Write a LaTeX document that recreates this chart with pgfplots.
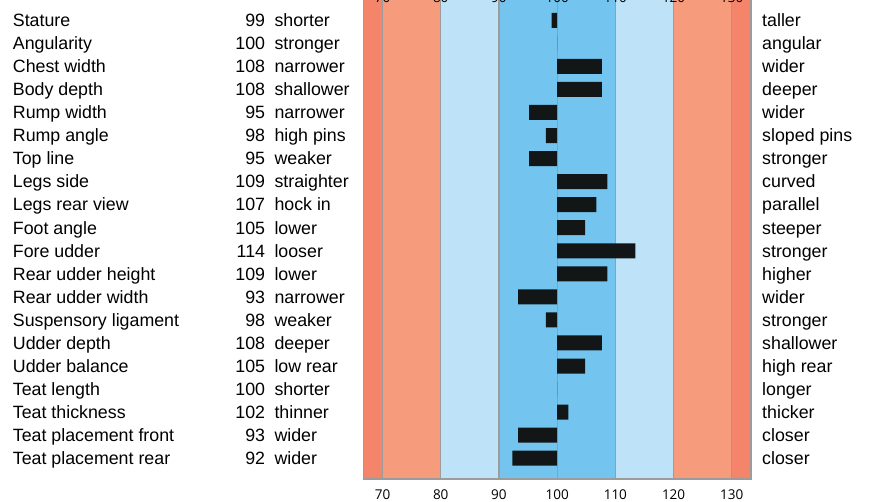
\documentclass[border=0pt]{standalone}
\usepackage{pgfplots}
\pgfplotsset{compat=1.18}
\usepackage{pgfplotstable}
\usepackage{fontspec}
\setmainfont{Liberation Sans}
\newfontfamily\tickfont{Open Sans}
\definecolor{outerred}{HTML}{F4846A}
\definecolor{innerred}{HTML}{F69B7C}
\definecolor{lightblue}{HTML}{BEE3F8}
\definecolor{midblue}{HTML}{73C5EF}
\definecolor{gridgray}{HTML}{9C9C9C}
\definecolor{barblack}{HTML}{121617}
% v = printed value, bar = bar end as drawn in the picture
\pgfplotstableread[col sep=comma]{
row,v,bar
0,99,99.04
1,100,100
2,108,107.68
3,108,107.68
4,95,95.2
5,98,98.08
6,95,95.2
7,109,108.64
8,107,106.72
9,105,104.8
10,114,113.44
11,109,108.64
12,93,93.28
13,98,98.08
14,108,107.68
15,105,104.8
16,100,100
17,102,101.92
18,93,93.28
19,92,92.32
}\bars
\newcommand\labfont{\fontsize{17.8}{21}\selectfont}
\begin{document}
\begin{tikzpicture}[x=1pt,y=1pt]
\begin{axis}[
 set layers,
 at={(363.3pt,23pt)}, anchor=south west,
 scale only axis, width=387.7pt, height=491pt,
 xmin=-33.3, xmax=33.3, ymin=-1.401, ymax=19.90, y dir=reverse,
 xtick={-30,-20,-10,0,10,20,30}, xticklabels={70,80,90,100,110,120,130},
 ytick=\empty,
 major tick length=0pt,
 xmajorgrids, grid style={draw=gridgray, line width=1.3pt},
 axis line style={draw=gridgray, line width=1.3pt},
 xticklabel style={font=\tickfont\fontsize{13.5}{15}\selectfont, anchor=base, yshift=-20.8pt},
]
\addplot[on layer=axis background, fill=outerred, draw=none] coordinates {(-33.3,-1.401) (33.3,-1.401) (33.3,19.90) (-33.3,19.90)} --cycle;
\addplot[on layer=axis background, fill=innerred, draw=none] coordinates {(-30,-1.401) (30,-1.401) (30,19.90) (-30,19.90)} --cycle;
\addplot[on layer=axis background, fill=lightblue, draw=none] coordinates {(-20,-1.401) (20,-1.401) (20,19.90) (-20,19.90)} --cycle;
\addplot[on layer=axis background, fill=midblue, draw=none] coordinates {(-10,-1.401) (10,-1.401) (10,19.90) (-10,19.90)} --cycle;
\addplot[xbar, bar width=15pt, fill=barblack, draw=none] table[x expr=\thisrow{bar}-100, y=row] {\bars};
\pgfplotsinvokeforeach{70,80,90,100,110,120,130}{
 \node[anchor=base, font=\tickfont\fontsize{13.5}{15}\selectfont, inner sep=0] at (axis cs:#1-100,-0.75) {#1};
}
\end{axis}
\foreach \n/\v/\l/\r [count=\i from 0] in {
Stature/99/shorter/taller,
Angularity/100/stronger/angular,
Chest width/108/narrower/wider,
Body depth/108/shallower/deeper,
Rump width/95/narrower/wider,
Rump angle/98/high pins/sloped pins,
Top line/95/weaker/stronger,
Legs side/109/straighter/curved,
Legs rear view/107/hock in/parallel,
Foot angle/105/lower/steeper,
Fore udder/114/looser/stronger,
Rear udder height/109/lower/higher,
Rear udder width/93/narrower/wider,
Suspensory ligament/98/weaker/stronger,
Udder depth/108/deeper/shallower,
Udder balance/105/low rear/high rear,
Teat length/100/shorter/longer,
Teat thickness/102/thinner/thicker,
Teat placement front/93/wider/closer,
Teat placement rear/92/wider/closer}{
 \pgfmathsetmacro\yy{502-26.6-23.05*\i}
 \node[anchor=base west, inner sep=0, font=\labfont] at (12.7,\yy) {\n};
 \node[anchor=base east, inner sep=0, font=\labfont] at (265.3,\yy) {\v};
 \node[anchor=base west, inner sep=0, font=\labfont] at (274.3,\yy) {\l};
 \node[anchor=base west, inner sep=0, font=\labfont] at (762,\yy) {\r};
}
\pgfresetboundingbox
\useasboundingbox (0,0) rectangle (873,502);
\end{tikzpicture}
\end{document}
